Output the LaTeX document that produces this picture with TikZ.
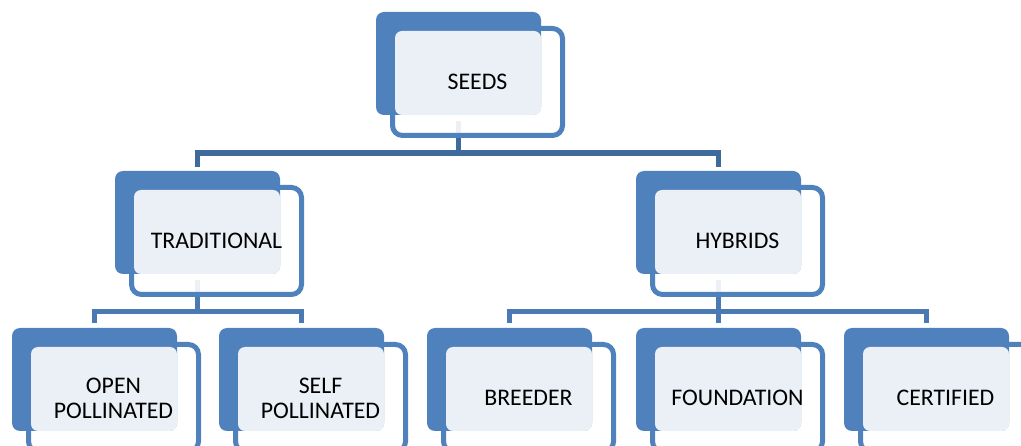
\documentclass[tikz,border=0pt]{standalone}
\usepackage{fontspec}
\setmainfont{Carlito}
\pgfdeclarelayer{bg}
\pgfsetlayers{bg,main}
\definecolor{accent}{HTML}{4F81BD}
\definecolor{paleblue}{HTML}{EBF0F7}
\definecolor{conntop}{HTML}{3F6A9C}
\definecolor{connlow}{HTML}{4A79B4}
\tikzset{
  bluebox/.style={rectangle, fill=accent, rounded corners=8pt, minimum width=165pt, minimum height=103pt, inner sep=0pt},
  outl/.style={draw=accent, line width=5pt, fill=white, fill opacity=0.9, rounded corners=10pt},
  lightbox/.style={fill=paleblue, rounded corners=7pt},
  lbl/.style={font=\fontsize{23.8}{25}\selectfont, text=black, align=center, inner sep=0pt},
  conn/.style={line width=5.5pt},
}
\newcommand\skbox[4]{%
  \draw[outl] ({#2+16.5},{#3+16.5}) rectangle ({#2+186.5},{#3+123.5});
  \node[bluebox] (#1) at ({#2+82.5},{#3+51.5}) {};
  \fill[lightbox] ({#2+19},{#3+19}) rectangle ({#2+165},{#3+103});
  \node[lbl] (#1-t) at ({#2+101.5},{#3+70}) {#4};
}
\begin{document}
\begin{tikzpicture}[x=1pt,y=-1pt]
\useasboundingbox (0,0) rectangle (1021,446);
\clip (0,0) rectangle (1021,446);
\skbox{seeds}{376}{12}{SEEDS}
\skbox{trad}{115}{171}{TRADITIONAL}
\skbox{hyb}{636}{171}{HYBRIDS}
\skbox{open}{12}{328}{OPEN\\POLLINATED}
\skbox{self}{219}{328}{SELF\\POLLINATED}
\skbox{breeder}{427}{328}{BREEDER}
\skbox{found}{636}{328}{FOUNDATION}
\skbox{cert}{844}{328}{CERTIFIED}
\begin{pgfonlayer}{bg}
  \draw[conn, draw=conntop] ([yshift=-6pt]seeds.south) -- ([yshift=-38pt]seeds.south) -| ([yshift=4pt]trad.north);
  \draw[conn, draw=conntop] ([yshift=-38pt]seeds.south) -| ([yshift=4pt]hyb.north);
  \draw[conn, draw=connlow] ([yshift=-6pt]trad.south) -- ([yshift=-37.5pt]trad.south) -| ([yshift=5pt]open.north);
  \draw[conn, draw=connlow] ([yshift=-37.5pt]trad.south) -| ([yshift=5pt]self.north);
  \draw[conn, draw=connlow] ([yshift=-6pt]hyb.south) -- ([yshift=-37.5pt]hyb.south) -| ([yshift=5pt]breeder.north);
  \draw[conn, draw=connlow] ([yshift=-6pt]hyb.south) -- ([yshift=-37.5pt]hyb.south) -| ([yshift=5pt]found.north);
  \draw[conn, draw=connlow] ([yshift=-37.5pt]hyb.south) -| ([yshift=5pt]cert.north);
\end{pgfonlayer}
\end{tikzpicture}
\end{document}
